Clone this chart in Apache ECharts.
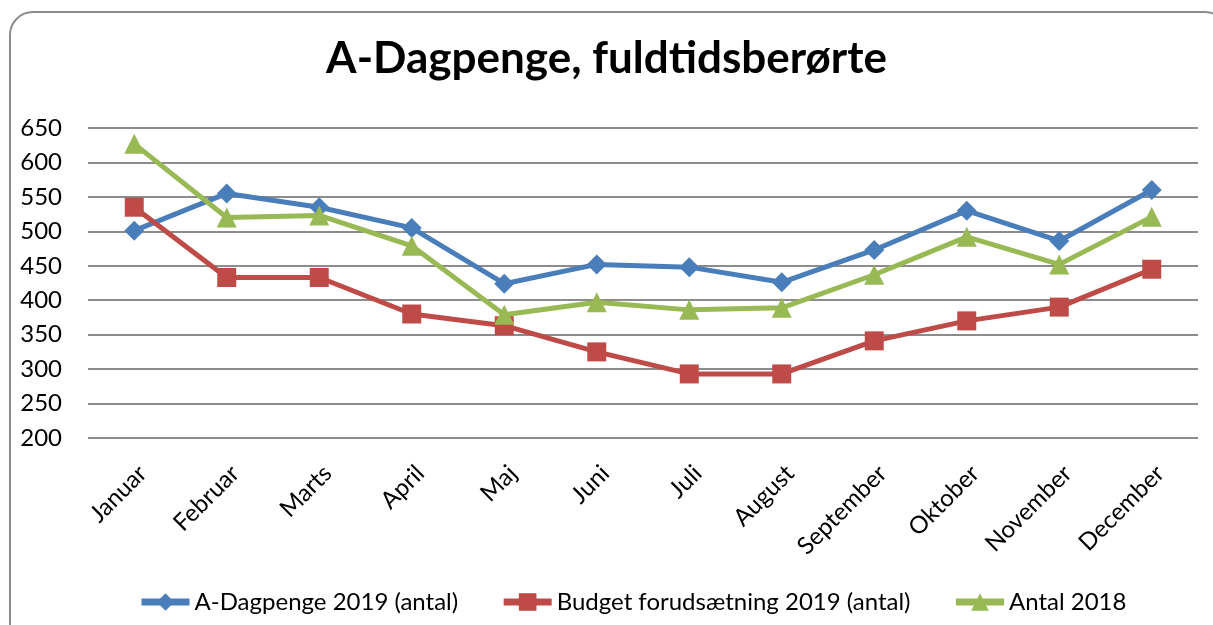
<!DOCTYPE html>
<html>
<head>
<meta charset="utf-8">
<script src="https://cdn.jsdelivr.net/npm/echarts@6/dist/echarts.min.js"></script>
<style>
    body { margin: 0; background: #fff; overflow: hidden; }
    .frame {
        position: absolute; left: 9px; top: 11px; width: 1220px; height: 640px;
        border: 2px solid #8c8c8c; border-radius: 24px; box-sizing: border-box;
    }
    #chart { position: absolute; left: 0; top: 0; width: 1213px; height: 625px; }
</style>
</head>
<body>
<div class="frame"></div>
<div id="chart"></div>
<script>
    const months = ['Januar', 'Februar', 'Marts', 'April', 'Maj', 'Juni', 'Juli', 'August', 'September', 'Oktober', 'November', 'December']
    const dagpenge2019 = [501, 555, 535, 505, 424, 452, 448, 426, 473, 530, 486, 560]
    const budget2019 = [535, 433, 433, 380, 363, 325, 293, 293, 341, 370, 390, 445]
    const antal2018 = [627, 520, 523, 479, 379, 397, 386, 389, 437, 492, 452, 521]

    const font = 'Lato, "Open Sans", sans-serif'
    const chart = echarts.init(document.getElementById('chart'))

    const option = {
        animation: false,
        textStyle: { fontFamily: font },
        title: {
            text: 'A-Dagpenge, fuldtidsberørte',
            left: 'center',
            top: 32,
            textStyle: { fontSize: 44, fontWeight: 'bold', color: '#000', fontFamily: font }
        },
        legend: {
            bottom: 6,
            left: 133,
            itemWidth: 48,
            itemHeight: 22,
            itemGap: 42,
            lineStyle: { width: 7 },
            textStyle: { fontSize: 24, color: '#000', fontFamily: font },
            data: ['A-Dagpenge 2019 (antal)', 'Budget forudsætning 2019 (antal)', 'Antal 2018']
        },
        grid: { left: 88, right: 15, top: 128, bottom: 187 },
        xAxis: {
            type: 'category',
            data: months,
            boundaryGap: true,
            axisLine: { show: false },
            axisTick: { show: false },
            axisLabel: { rotate: 45, fontSize: 24, color: '#000', margin: 23, verticalAlign: 'top', fontFamily: font }
        },
        yAxis: {
            type: 'value',
            min: 200,
            max: 650,
            interval: 50,
            axisLine: { show: false },
            axisTick: { show: false },
            axisLabel: { fontSize: 24, color: '#000', margin: 26, fontFamily: font },
            splitLine: { lineStyle: { color: '#8c8c8c', width: 2 } }
        },
        series: [
            {
                name: 'A-Dagpenge 2019 (antal)',
                type: 'line',
                data: dagpenge2019,
                symbol: 'diamond',
                symbolSize: 20,
                itemStyle: { color: '#4a7ebb' },
                lineStyle: { width: 5, color: '#4a7ebb' }
            },
            {
                name: 'Budget forudsætning 2019 (antal)',
                type: 'line',
                data: budget2019,
                symbol: 'rect',
                symbolSize: 19,
                itemStyle: { color: '#be4b48' },
                lineStyle: { width: 5, color: '#be4b48' }
            },
            {
                name: 'Antal 2018',
                type: 'line',
                data: antal2018,
                symbol: 'triangle',
                symbolSize: 20,
                itemStyle: { color: '#98b954' },
                lineStyle: { width: 5, color: '#98b954' }
            }
        ]
    }
    chart.setOption(option)
</script>
</body>
</html>
